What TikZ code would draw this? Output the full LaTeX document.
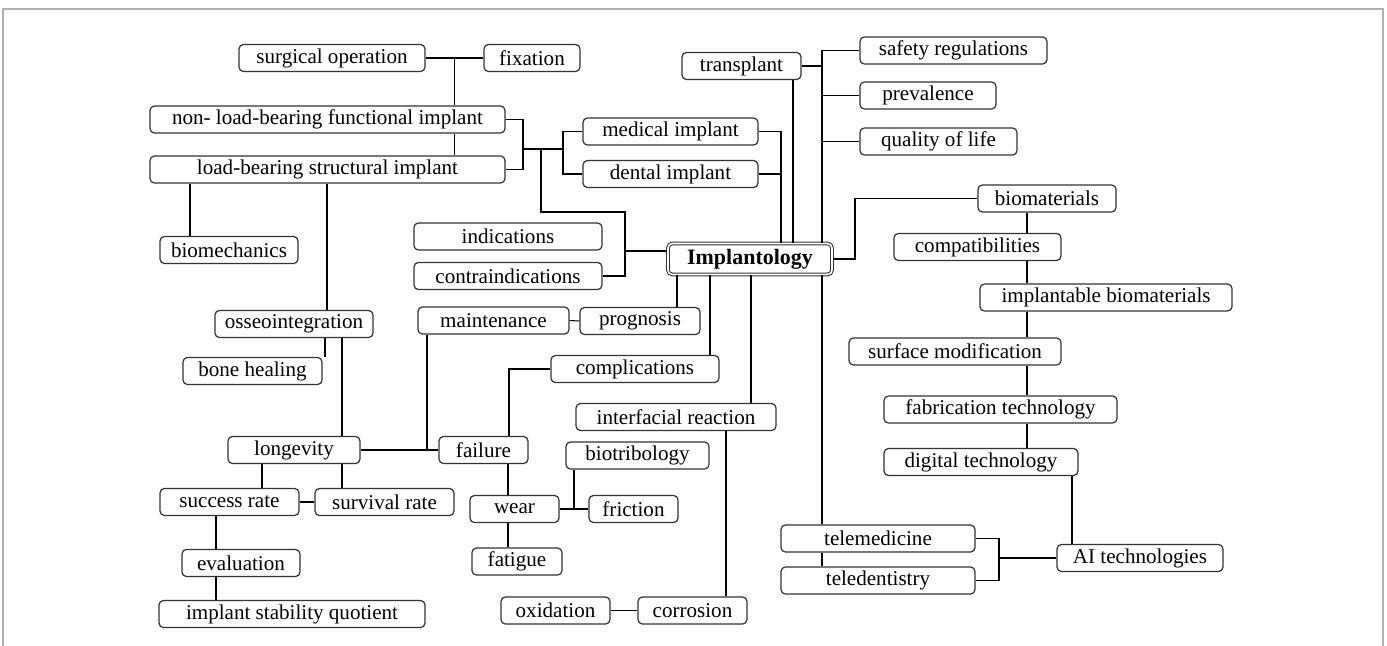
\documentclass[tikz,border=0pt]{standalone}
\usepackage{fontspec}
\setmainfont{Liberation Serif}
\usepackage{tikz}

\begin{document}
\begin{tikzpicture}[x=0.02cm, y=-0.02cm,
    box/.style={draw=black!80, line width=0.7pt, rounded corners=2.5pt,
      minimum height=0.54cm, inner sep=0pt, font=\fontsize{12}{14}\selectfont},
    mainbox/.style={box, double, double distance=0.9pt, line width=0.6pt,
      minimum height=0.62cm, font=\fontsize{12.5}{14}\selectfont\bfseries},
    link/.style={black, line width=0.6pt}]

    \useasboundingbox (0,0) rectangle (1387,646);

    % Ramka
    \draw[gray!60, line width=0.8pt] (3,646) -- (3,9) -- (1383,9) -- (1383,646);

    % Centrum
    \node[mainbox, minimum width=3.28cm] (impl) at (750,259) {Implantology};

    % Lewa gora
    \node[box, minimum width=3.72cm] (surg) at (332,58) {surgical operation};

    \node[box, minimum width=1.92cm] (fix) at (532,58) {fixation};

    \node[box, minimum width=7.10cm] (nlb) at (327.5,119.5) {non- load-bearing functional implant};

    \node[box, minimum width=7.10cm] (lb) at (327.5,169.5) {load-bearing structural implant};

    \node[box, minimum width=3.50cm] (med) at (670.5,131.5) {medical implant};

    \node[box, minimum width=3.50cm] (dent) at (670.5,174) {dental implant};

    \node[box, minimum width=3.76cm] (indic) at (508,236.5) {indications};

    \node[box, minimum width=3.76cm] (contra) at (508,276) {contraindications};

    \node[box, minimum width=2.76cm] (biomech) at (229,250) {biomechanics};

    % Prawa gora
    \node[box, minimum width=2.38cm] (trans) at (741.5,66) {transplant};

    \node[box, minimum width=3.74cm] (safety) at (953.5,50.5) {safety regulations};

    \node[box, minimum width=2.72cm] (preval) at (928,95.5) {prevalence};

    \node[box, minimum width=3.14cm] (qol) at (938.5,141.5) {quality of life};

    % Prawa strona
    \node[box, minimum width=2.76cm] (biomat) at (1047,198.5) {biomaterials};

    \node[box, minimum width=3.34cm] (compat) at (977.5,247) {compatibilities};

    \node[box, minimum width=5.04cm] (implbio) at (1106,297.5) {implantable biomaterials};

    \node[box, minimum width=4.24cm] (surf) at (955,351.5) {surface modification};

    \node[box, minimum width=4.66cm] (fab) at (1000.5,409.5) {fabrication technology};

    \node[box, minimum width=3.88cm] (digi) at (981,462) {digital technology};

    \node[box, minimum width=3.32cm] (ai) at (1140,558) {AI technologies};

    \node[box, minimum width=3.88cm] (telemed) at (878,538.5) {telemedicine};

    \node[box, minimum width=3.88cm] (teledent) at (878,580.5) {teledentistry};

    % Lewy dol
    \node[box, minimum width=3.16cm] (osseo) at (294,324) {osseointegration};

    \node[box, minimum width=2.78cm] (bone) at (252.5,371) {bone healing};

    \node[box, minimum width=2.64cm] (longev) at (294,450) {longevity};

    \node[box, minimum width=2.78cm] (succ) at (229.5,502) {success rate};

    \node[box, minimum width=2.78cm] (surv) at (384.5,502) {survival rate};

    \node[box, minimum width=2.36cm] (evalu) at (241,563) {evaluation};

    \node[box, minimum width=5.32cm] (isq) at (292,614) {implant stability quotient};

    % Srodek dol
    \node[box, minimum width=3.02cm] (maint) at (493.5,320.5) {maintenance};

    \node[box, minimum width=2.40cm] (progn) at (640,321) {prognosis};

    \node[box, minimum width=3.36cm] (compl) at (635,369) {complications};

    \node[box, minimum width=4.00cm] (interf) at (676,417) {interfacial reaction};

    \node[box, minimum width=1.78cm] (fail) at (483.5,450) {failure};

    \node[box, minimum width=2.86cm] (biotrib) at (637.5,455.5) {biotribology};

    \node[box, minimum width=1.78cm] (wear) at (514.5,509) {wear};

    \node[box, minimum width=1.78cm] (fric) at (633.5,509) {friction};

    \node[box, minimum width=1.80cm] (fatig) at (517,561.5) {fatigue};

    \node[box, minimum width=2.18cm] (oxid) at (555.5,610.5) {oxidation};

    \node[box, minimum width=2.18cm] (corr) at (692.5,610.5) {corrosion};

    % Polaczenia lewa gora
    \draw[link] (surg.east) -- (fix.west) coordinate[midway] (j1);

    \draw[link] (j1) -- (j1 |- nlb.north);

    \draw[link] (nlb.south -| j1) -- (lb.north -| j1);

    \coordinate (j2) at (523,149);
    \coordinate (j3) at (563,149);
    \coordinate (j4) at (541,149);
    \coordinate (j5) at (625,212);
    \coordinate (j6) at (625,251);

    \draw[link] (nlb.east) -| (j2) |- (lb.east);

    \draw[link] (j2) -- (j3);

    \draw[link] (med.west) -| (j3) |- (dent.west);

    \draw[link] (j4) |- (j5) |- (contra.east);

    \draw[link] (j6) -- (j6 -| impl.west);

    \draw[link] (lb.south -| 190,0) -- (biomech.north -| 190,0);

    \draw[link] (lb.south -| 327,0) -- (osseo.north -| 327,0);

    % Polaczenia gora
    \draw[link] (med.east) -| (impl.north -| 781,0);

    \draw[link] (dent.east) -- (dent.east -| 781,0);

    \draw[link] (trans.south -| 793,0) -- (impl.north -| 793,0);

    \draw[link] (safety.west) -| (impl.north -| 822,0);

    \draw[link] (trans.east) -- (trans.east -| 822,0);

    \foreach \n in {preval, qol}
      \draw[link] (\n.west) -- (\n.west -| 822,0);

    % Polaczenia prawa strona
    \draw[link] (impl.east) -- (impl.east -| 855,0) |- (biomat.west);

    \foreach \a/\b in {biomat/compat, compat/implbio, implbio/surf, surf/fab, fab/digi}
      \draw[link] (\a.south -| 1027,0) -- (\b.north -| 1027,0);

    \draw[link] (digi.south -| 1072,0) -- (ai.north -| 1072,0);

    \coordinate (j7) at (999,558);

    \draw[link] (telemed.east) -| (j7) |- (teledent.east);

    \draw[link] (j7) -- (ai.west);

    \draw[link] (impl.south -| 822,0) -- (telemed.north -| 822,0);

    \draw[link] (telemed.south -| 822,0) -- (teledent.north -| 822,0);

    % Polaczenia dol
    \draw[link] (impl.south -| 677,0) -- (progn.north -| 677,0);

    \draw[link] (impl.south -| 710,0) -- (compl.north -| 710,0);

    \draw[link] (impl.south -| 751,0) -- (interf.north -| 751,0);

    \draw[link] (progn.west) -- (maint.east);

    \draw[link] (interf.south -| 726,0) -- (corr.north -| 726,0);

    \draw[link] (oxid.east) -- (corr.west);

    \draw[link] (longev.east) -- (fail.west);

    \draw[link] (maint.south -| 427,0) -- (longev.east -| 427,0);

    \draw[link] (fail.north -| 509,0) |- (compl.west);

    \draw[link] (fail.south -| 508,0) -- (wear.north -| 508,0);

    \draw[link] (wear.south -| 508,0) -- (fatig.north -| 508,0);

    \draw[link] (wear.east) -- (fric.west);

    \draw[link] (fric.west -| 574,0) -- (biotrib.south -| 574,0);

    % Polaczenia lewy dol
    \draw[link] (osseo.south -| 325,0) -- (bone.north -| 325,0);

    \draw[link] (osseo.south -| 342,0) -- (longev.north -| 342,0);

    \draw[link] (longev.south -| 262,0) -- (succ.north -| 262,0);

    \draw[link] (longev.south -| 342,0) -- (surv.north -| 342,0);

    \draw[link] (succ.east) -- (surv.west);

    \draw[link] (succ.south -| 216,0) -- (evalu.north -| 216,0);

    \draw[link] (evalu.south -| 216,0) -- (isq.north -| 216,0);
  \end{tikzpicture}
\end{document}
